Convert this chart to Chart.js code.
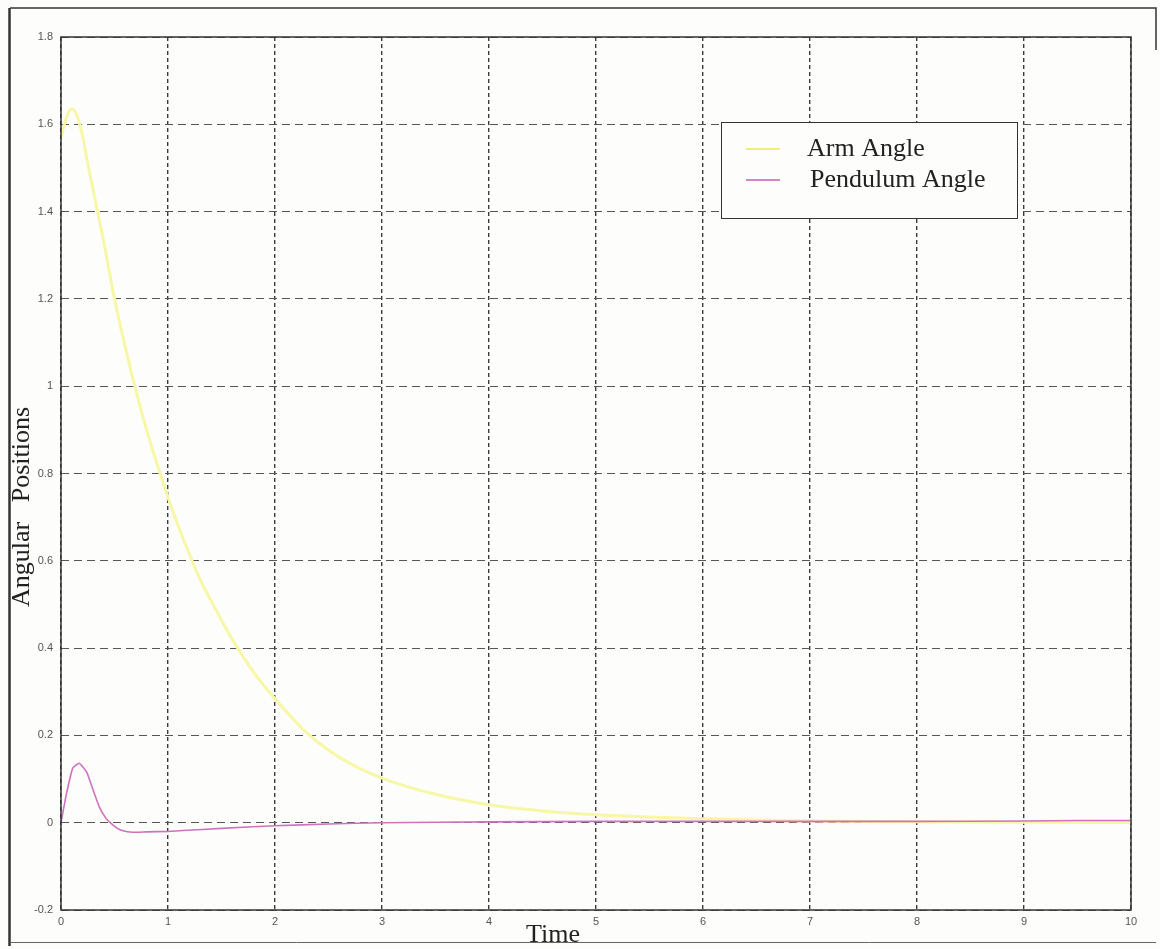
<!DOCTYPE html>
<html>
<head>
<meta charset="utf-8">
<title>Angular Positions</title>
<script src="https://cdn.jsdelivr.net/npm/chart.js@4.4.1/dist/chart.umd.min.js"></script>
<style>
  html, body { margin: 0; padding: 0; background: #fdfdfc; }
  #wrap { width: 1160px; height: 949px; position: relative; }
  canvas { display: block; }
</style>
</head>
<body>
<div id="wrap"><canvas id="c" width="1160" height="949"></canvas></div>
<script>
// Simulation time samples (s) and angular responses (rad)
const armTime = [0, 0.05, 0.1, 0.15, 0.2, 0.25, 0.3, 0.35, 0.4, 0.5, 0.6, 0.7, 0.8, 0.9, 1.0, 1.1, 1.2, 1.3, 1.4, 1.6, 1.8, 2.0, 2.3, 2.6, 3.0, 3.5, 4.0, 4.5, 5.0, 5.5, 6.0, 6.5, 7.0, 8.0, 9.0, 10.0];
const armAngle = [1.57, 1.615, 1.635, 1.62, 1.575, 1.51, 1.45, 1.39, 1.33, 1.20, 1.09, 0.99, 0.90, 0.82, 0.745, 0.677, 0.615, 0.557, 0.51, 0.42, 0.345, 0.284, 0.205, 0.150, 0.102, 0.065, 0.041, 0.027, 0.018, 0.013, 0.009, 0.006, 0.004, 0.002, 0.001, 0.0005];

const pendTime = [0, 0.05, 0.11, 0.17, 0.24, 0.3, 0.36, 0.42, 0.46, 0.52, 0.57, 0.67, 0.8, 1.0, 1.14, 1.5, 2.0, 2.5, 3.0, 4.0, 5.0, 6.0, 7.0, 8.0, 9.0, 9.5, 10.0];
const pendulumAngle = [0, 0.065, 0.125, 0.136, 0.116, 0.075, 0.035, 0.01, 0, -0.012, -0.018, -0.022, -0.021, -0.02, -0.018, -0.013, -0.007, -0.003, 0, 0.002, 0.003, 0.003, 0.003, 0.003, 0.004, 0.005, 0.005];

const seriesLabels = ['Arm Angle', 'Pendulum Angle'];
const xTitle = 'Time';
const yTitle = 'Angular   Positions';

const toPoints = (xs, ys) => xs.map((x, i) => ({ x: x, y: ys[i] }));
const fmt = v => String(Number(v.toFixed(1)));
const serif = '26px "Liberation Serif", "Times New Roman", serif';

// Frame, axis titles and legend box
const decorations = {
  id: 'decorations',
  beforeDraw(chart) {
    const ctx = chart.ctx;
    ctx.save();
    ctx.fillStyle = '#fdfdfc';
    ctx.fillRect(0, 0, chart.width, chart.height);
    // outer page border
    ctx.strokeStyle = '#333';
    ctx.lineWidth = 1.5;
    ctx.beginPath();
    ctx.moveTo(10, 8); ctx.lineTo(1156, 8); ctx.lineTo(1156, 50);
    ctx.stroke();
    ctx.lineWidth = 2.5;
    ctx.beginPath();
    ctx.moveTo(9.5, 8); ctx.lineTo(9.5, 946);
    ctx.stroke();
    ctx.strokeStyle = '#666';
    ctx.lineWidth = 1;
    ctx.beginPath();
    ctx.moveTo(10, 942.5); ctx.lineTo(1156, 942.5);
    ctx.stroke();
    ctx.restore();
  },
  afterDatasetsDraw(chart) {
    const ctx = chart.ctx;
    const a = chart.chartArea;
    ctx.save();
    // plot frame
    ctx.strokeStyle = '#333';
    ctx.lineWidth = 1.5;
    ctx.strokeRect(a.left, a.top, a.right - a.left, a.bottom - a.top);

    // axis titles
    ctx.fillStyle = '#222';
    ctx.font = serif;
    ctx.textAlign = 'center';
    ctx.textBaseline = 'middle';
    ctx.fillText(xTitle, 553, 935);
    ctx.translate(22, 507);
    ctx.rotate(-Math.PI / 2);
    ctx.fillText(yTitle, 0, 0);
    ctx.restore();

    // legend
    ctx.save();
    const bx = 721, by = 122, bw = 296, bh = 96;
    ctx.fillStyle = '#fdfdfc';
    ctx.fillRect(bx, by, bw, bh);
    ctx.strokeStyle = '#333';
    ctx.lineWidth = 1;
    ctx.strokeRect(bx + 0.5, by + 0.5, bw, bh);
    ctx.font = serif;
    ctx.textAlign = 'left';
    ctx.textBaseline = 'middle';
    const rows = [149, 180];
    const textX = [807, 810];
    chart.data.datasets.forEach((ds, i) => {
      ctx.strokeStyle = ds.legendColor;
      ctx.lineWidth = 2;
      ctx.beginPath();
      ctx.moveTo(746, rows[i]);
      ctx.lineTo(780, rows[i]);
      ctx.stroke();
      ctx.fillStyle = '#222';
      ctx.fillText(ds.label, textX[i], rows[i]);
    });
    ctx.restore();
  }
};

new Chart(document.getElementById('c'), {
  type: 'line',
  data: {
    datasets: [
      {
        label: seriesLabels[0],
        data: toPoints(armTime, armAngle),
        borderColor: '#f7f7a6',
        legendColor: '#eeee7a',
        borderWidth: 3,
        pointRadius: 0,
        cubicInterpolationMode: 'monotone',
        fill: false,
        order: 2
      },
      {
        label: seriesLabels[1],
        data: toPoints(pendTime, pendulumAngle),
        borderColor: '#cf72bd',
        legendColor: '#d884c8',
        borderWidth: 1.6,
        pointRadius: 0,
        tension: 0.15,
        fill: false,
        order: 1
      }
    ]
  },
  options: {
    responsive: false,
    animation: false,
    events: [],
    layout: { padding: { top: 37, right: 29, left: 0, bottom: 0 } },
    plugins: {
      legend: { display: false },
      tooltip: { enabled: false },
      title: { display: false }
    },
    scales: {
      x: {
        type: 'linear',
        min: 0,
        max: 10,
        afterFit(scale) { scale.height = 39; },
        ticks: {
          stepSize: 1,
          padding: 5,
          color: '#555',
          font: { family: 'Arial, "Liberation Sans", sans-serif', size: 11 },
          callback: v => fmt(v),
          maxRotation: 0
        },
        grid: {
          color: '#3a3a3a',
          lineWidth: 1.4,
          drawTicks: false
        },
        border: { display: false, dash: [4, 3] }
      },
      y: {
        type: 'linear',
        min: -0.2,
        max: 1.8,
        afterFit(scale) { scale.width = 61; },
        ticks: {
          stepSize: 0.2,
          padding: 8,
          color: '#555',
          font: { family: 'Arial, "Liberation Sans", sans-serif', size: 11 },
          callback: v => fmt(v)
        },
        grid: {
          color: '#555',
          lineWidth: 1,
          drawTicks: false
        },
        border: { display: false, dash: [8, 5] }
      }
    }
  },
  plugins: [decorations]
});
</script>
</body>
</html>
